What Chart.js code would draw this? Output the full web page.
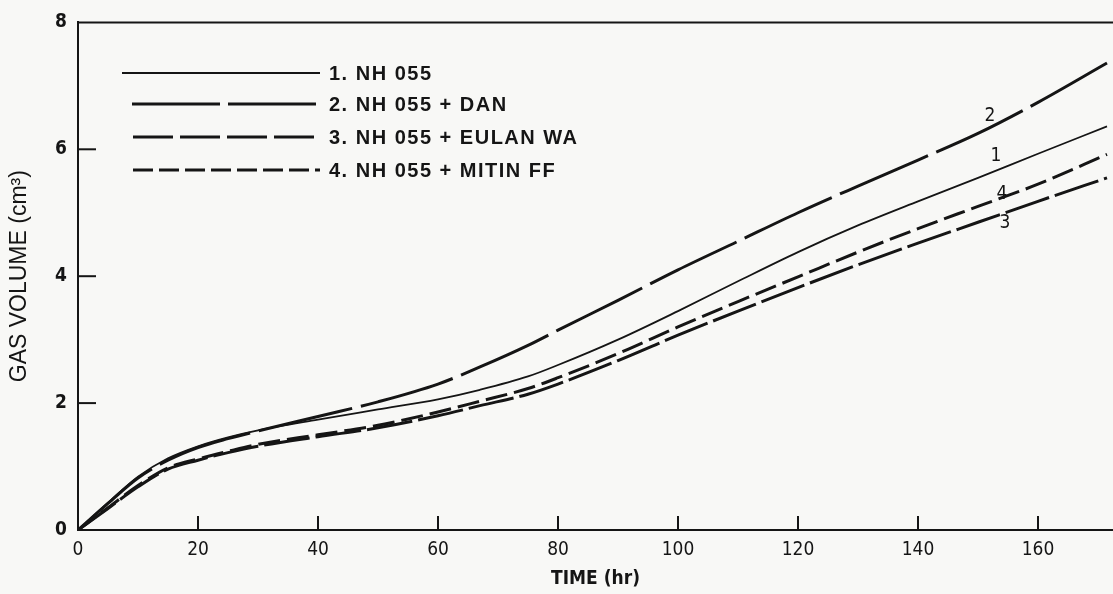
<!DOCTYPE html>
<html>
<head>
<meta charset="utf-8">
<script src="https://cdn.jsdelivr.net/npm/chart.js@4"></script>
<style>
  html, body { margin:0; padding:0; background:#f8f8f6; }
  #wrap { width:1113px; height:594px; }
</style>
</head>
<body>
<div id="wrap"><canvas id="gasChart" width="1113" height="594"></canvas></div>
<script>
/* ===============================
   DATA
================================ */

const hours = [0,5,10,15,20,25,30,40,50,60,67,75,80,90,100,110,120,130,140,150,160,171.5];

const nh055     = [0,0.43,0.84,1.13,1.32,1.46,1.57,1.74,1.90,2.06,2.21,2.42,2.60,3.00,3.45,3.92,4.38,4.80,5.18,5.55,5.93,6.36];
const nh055Dan  = [0,0.42,0.82,1.10,1.30,1.44,1.56,1.79,2.02,2.30,2.57,2.91,3.15,3.62,4.10,4.55,5.00,5.42,5.83,6.25,6.74,7.36];
const nh055Eul  = [0,0.34,0.68,0.96,1.10,1.22,1.32,1.47,1.61,1.80,1.96,2.14,2.30,2.67,3.07,3.45,3.82,4.18,4.52,4.85,5.18,5.55];
const nh055Mit  = [0,0.35,0.70,0.98,1.12,1.24,1.35,1.50,1.65,1.86,2.03,2.23,2.40,2.78,3.20,3.60,3.99,4.38,4.75,5.10,5.45,5.92];

const seriesNames = ["1. NH 055","2. NH 055 + DAN","3. NH 055 + EULAN WA","4. NH 055 + MITIN FF"];
const curveTags   = ["1","2","3","4"];
const tagX        = [153,152,154.5,154];
const tagY        = [5.9,6.53,4.83,5.29];

const xTicks = [0,20,40,60,80,100,120,140,160];
const yTicks = [0,2,4,6,8];

/* ===============================
   STYLE
================================ */

const INK = "#151515";
const dashes = [[], [96,9], [46,6], [22,7]];
const widths = [1.8, 3, 3, 3];
const tickFont = "'Liberation Sans Narrow','DejaVu Sans Condensed','Liberation Sans',sans-serif";

function pts(arr){
  return hours.map((h,i)=>({x:h, y:arr[i]}));
}

const datasets = [nh055, nh055Dan, nh055Eul, nh055Mit].map((arr,i)=>({
  label: seriesNames[i],
  data: pts(arr),
  borderColor: INK,
  borderWidth: widths[i],
  borderDash: dashes[i],
  pointRadius: 0,
  fill: false,
  cubicInterpolationMode: "monotone"
}));

/* axes decorations, legend, curve tags */
const decor = {
  id: "decor",
  afterDatasetsDraw(chart){
    const ctx = chart.ctx;
    const xs = chart.scales.x, ys = chart.scales.y;
    const a = chart.chartArea;
    ctx.save();
    ctx.strokeStyle = INK;
    ctx.lineWidth = 2;
    ctx.setLineDash([]);

    // top frame line
    ctx.beginPath();
    ctx.moveTo(a.left, a.top);
    ctx.lineTo(a.right, a.top);
    ctx.stroke();

    // inward ticks
    xTicks.filter(v=>v>0).forEach(v=>{
      const px = xs.getPixelForValue(v);
      ctx.beginPath();
      ctx.moveTo(px, a.bottom);
      ctx.lineTo(px, a.bottom-14);
      ctx.stroke();
    });
    yTicks.filter(v=>v>0 && v<8).forEach(v=>{
      const py = ys.getPixelForValue(v);
      ctx.beginPath();
      ctx.moveTo(a.left, py);
      ctx.lineTo(a.left+18, py);
      ctx.stroke();
    });

    // legend
    const legY = [73,104,137,170];
    const legX0 = [122,132,133,133];
    ctx.fillStyle = INK;
    ctx.font = "bold 20px 'Liberation Sans', Arial, sans-serif";
    ctx.letterSpacing = "1.5px";
    ctx.textBaseline = "middle";
    seriesNames.forEach((name,i)=>{
      ctx.lineWidth = widths[i];
      ctx.setLineDash(i===1 ? [88,8] : i===2 ? [40,7] : i===3 ? [20,6] : []);
      ctx.beginPath();
      ctx.moveTo(legX0[i], legY[i]);
      ctx.lineTo(320, legY[i]);
      ctx.stroke();
      ctx.fillText(name, 329, legY[i]+1);
    });
    ctx.letterSpacing = "0px";

    // curve numbers
    ctx.setLineDash([]);
    ctx.font = "19px " + tickFont;
    ctx.textAlign = "center";
    curveTags.forEach((t,i)=>{
      ctx.fillText(t, xs.getPixelForValue(tagX[i]), ys.getPixelForValue(tagY[i]));
    });
    ctx.restore();
  }
};

new Chart(document.getElementById("gasChart"),{
  type:"line",
  data:{ datasets },
  plugins:[decor],
  options:{
    responsive:false,
    animation:false,
    layout:{ padding:{ top:14, right:0, left:0, bottom:0 } },
    plugins:{
      legend:{ display:false },
      tooltip:{ enabled:false }
    },
    scales:{
      x:{
        type:"linear",
        min:0, max:172.5,
        afterBuildTicks(s){ s.ticks = xTicks.map(v=>({value:v})); },
        afterFit(s){ s.height = 64; },
        grid:{ display:false, drawTicks:false },
        border:{ color:INK, width:2 },
        ticks:{ color:INK, padding:9, maxRotation:0, font:{ family:tickFont, size:19 } },
        title:{ display:true, text:"TIME (hr)", color:INK, padding:{top:10}, font:{ family:tickFont, size:19, weight:"bold" } }
      },
      y:{
        type:"linear",
        min:0, max:8,
        afterBuildTicks(s){ s.ticks = yTicks.map(v=>({value:v})); },
        afterFit(s){ s.width = 78; },
        grid:{ display:false, drawTicks:false },
        border:{ color:INK, width:2 },
        ticks:{ color:INK, padding:11, font:{ family:tickFont, size:19, weight:"bold" } },
        title:{ display:true, text:"GAS VOLUME (cm³)", color:INK, padding:{top:6}, font:{ family:"'Liberation Sans',sans-serif", size:23 } }
      }
    }
  }
});
</script>
</body>
</html>
